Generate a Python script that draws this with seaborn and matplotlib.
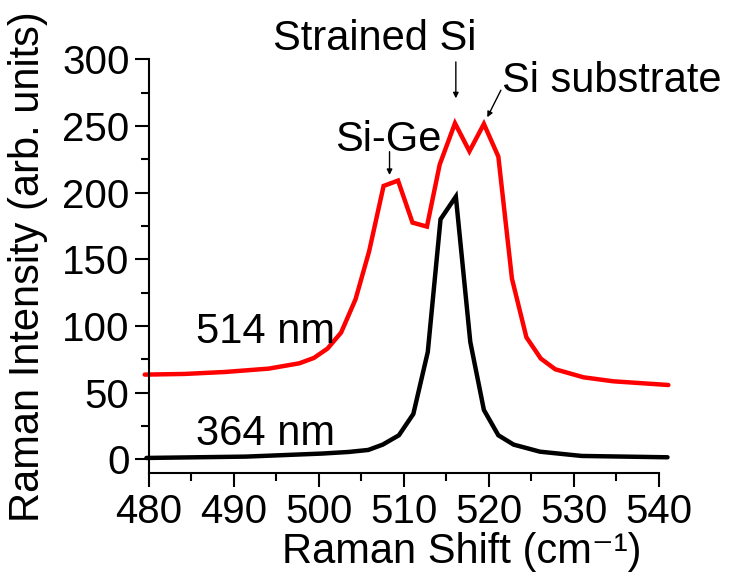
import numpy as np
import pandas as pd
import matplotlib
matplotlib.use("Agg")
import matplotlib.pyplot as plt
import seaborn as sns

# =====================
# Data
# =====================
shift_514 = [479.5, 484.2, 489.0, 494.1, 497.7, 499.4, 501.0, 502.6, 504.3, 505.9,
             507.6, 509.3, 511.0, 512.7, 514.2, 516.0, 517.7, 519.4, 521.1, 522.7,
             524.4, 526.1, 527.8, 531.1, 534.6, 541.1]
intensity_514 = [63.5, 64.0, 65.5, 68.0, 72.0, 76.0, 83.0, 95.0, 120.0, 156.0,
                 205.0, 209.0, 177.5, 174.5, 221.0, 252.0, 231.0, 251.5, 227.0, 135.5,
                 91.5, 75.5, 67.5, 61.5, 58.5, 55.7]

shift_364 = [479.7, 491.4, 500.4, 503.5, 505.8, 507.5, 509.4, 511.1, 512.8, 514.3,
             516.1, 517.8, 519.4, 521.1, 522.9, 526.0, 530.9, 541.0]
intensity_364 = [1.0, 2.0, 4.3, 5.5, 7.0, 11.0, 18.0, 34.0, 80.5, 180.0,
                 197.0, 88.0, 37.0, 18.0, 11.0, 5.7, 2.5, 1.5]

df = pd.concat([
    pd.DataFrame({"shift": shift_514, "intensity": intensity_514, "laser": "514 nm"}),
    pd.DataFrame({"shift": shift_364, "intensity": intensity_364, "laser": "364 nm"}),
])

# =====================
# Style
# =====================
sns.set_style("ticks")
plt.rcParams["font.family"] = ["Liberation Sans", "DejaVu Sans"]
for key in ["text.color", "axes.labelcolor", "xtick.color", "ytick.color", "axes.edgecolor"]:
    plt.rcParams[key] = "black"

fig = plt.figure(figsize=(7.31, 5.81), dpi=100)
ax = fig.add_axes([0.2038, 0.1854, 0.6977, 0.7126])

sns.lineplot(data=df, x="shift", y="intensity", hue="laser",
             palette={"514 nm": "#ff0000", "364 nm": "#000000"},
             linewidth=3.2, legend=False, sort=False, estimator=None, ax=ax)
for line in ax.lines:
    line.set_clip_on(False)
    line.set_solid_joinstyle("miter")

ax.set_xlim(480, 540)
ax.set_ylim(-10.5, 300)
ax.set_xticks(range(480, 541, 10))
ax.set_xticks(range(485, 540, 10), minor=True)
ax.set_yticks(range(0, 301, 50))
ax.set_yticks(range(25, 300, 50), minor=True)
sns.despine(ax=ax)
for s in ["left", "bottom"]:
    ax.spines[s].set_linewidth(1.5)
ax.tick_params(which="major", length=10, width=1.5, labelsize=29, pad=4)
ax.tick_params(which="minor", length=6, width=1.5)

ax.set_xlabel("Raman Shift (cm⁻¹)", fontsize=30)
ax.set_ylabel("Raman Intensity (arb. units)", fontsize=30)
ax.xaxis.set_label_coords(0.614, -0.142)
ax.yaxis.set_label_coords(-0.198, 0.5)

# =====================
# Annotations
# =====================
ax.text(493.7, 87, "514 nm", fontsize=30, ha="center", va="baseline")
ax.text(493.7, 10.7, "364 nm", fontsize=30, ha="center", va="baseline")
arrow = dict(arrowstyle="-|>", color="black", lw=1, mutation_scale=8, shrinkA=0, shrinkB=0)
ax.annotate("", xy=(516.1, 270.7), xytext=(516.1, 298), arrowprops=arrow, annotation_clip=False)
ax.text(506.6, 307, "Strained Si", fontsize=30, ha="center", va="baseline", clip_on=False)
ax.annotate("", xy=(519.8, 256.5), xytext=(521.4, 276.8), arrowprops=arrow, annotation_clip=False)
ax.text(534.5, 275.5, "Si substrate", fontsize=30, ha="center", va="baseline", clip_on=False)
ax.annotate("", xy=(508.3, 213.2), xytext=(508.3, 230.7), arrowprops=arrow, annotation_clip=False)
ax.text(508.2, 231.5, "Si-Ge", fontsize=30, ha="center", va="baseline")

plt.savefig("out.png", dpi=100)
plt.close()
